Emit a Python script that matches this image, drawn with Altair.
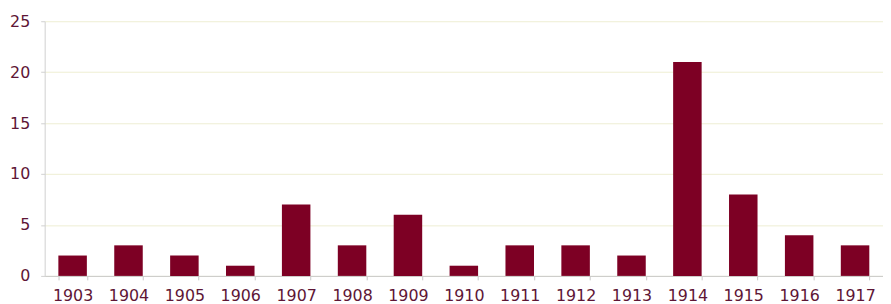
import altair as alt
import pandas as pd

years = ["1903", "1904", "1905", "1906", "1907", "1908", "1909", "1910",
         "1911", "1912", "1913", "1914", "1915", "1916", "1917"]
counts = [2, 3, 2, 1, 7, 3, 6, 1, 3, 3, 2, 21, 8, 4, 3]

df = pd.DataFrame({"year": years, "count": counts})

label_color = "#5e1636"

chart = alt.Chart(df).mark_bar(color="#7d0024").encode(
    x=alt.X("year:N", sort=years, title=None,
            scale=alt.Scale(paddingInner=0.49, paddingOuter=0.245),
            axis=alt.Axis(labelAngle=0, tickBand="extent", tickSize=4,
                          labelPadding=8, labelFontSize=16, labelFont="DejaVu Sans",
                          labelColor=label_color, domainColor="#c8c8c8",
                          tickColor="#c8c8c8", grid=False)),
    y=alt.Y("count:Q", title=None,
            scale=alt.Scale(domain=[0, 25], nice=False),
            axis=alt.Axis(values=[0, 5, 10, 15, 20, 25], tickSize=4,
                          labelPadding=11, labelFontSize=16, labelFont="DejaVu Sans",
                          labelColor=label_color, domainColor="#d0d0d0",
                          tickColor="#d0d0d0", gridColor="#eeeed2", grid=True)),
).properties(
    width=846, height=257,
    autosize=alt.AutoSizeParams(type="none"),
    padding={"left": 37, "top": 12, "right": 0, "bottom": 27},
).configure_view(stroke=None)

chart.save("out.html", embed_options={"renderer": "svg", "actions": False})
